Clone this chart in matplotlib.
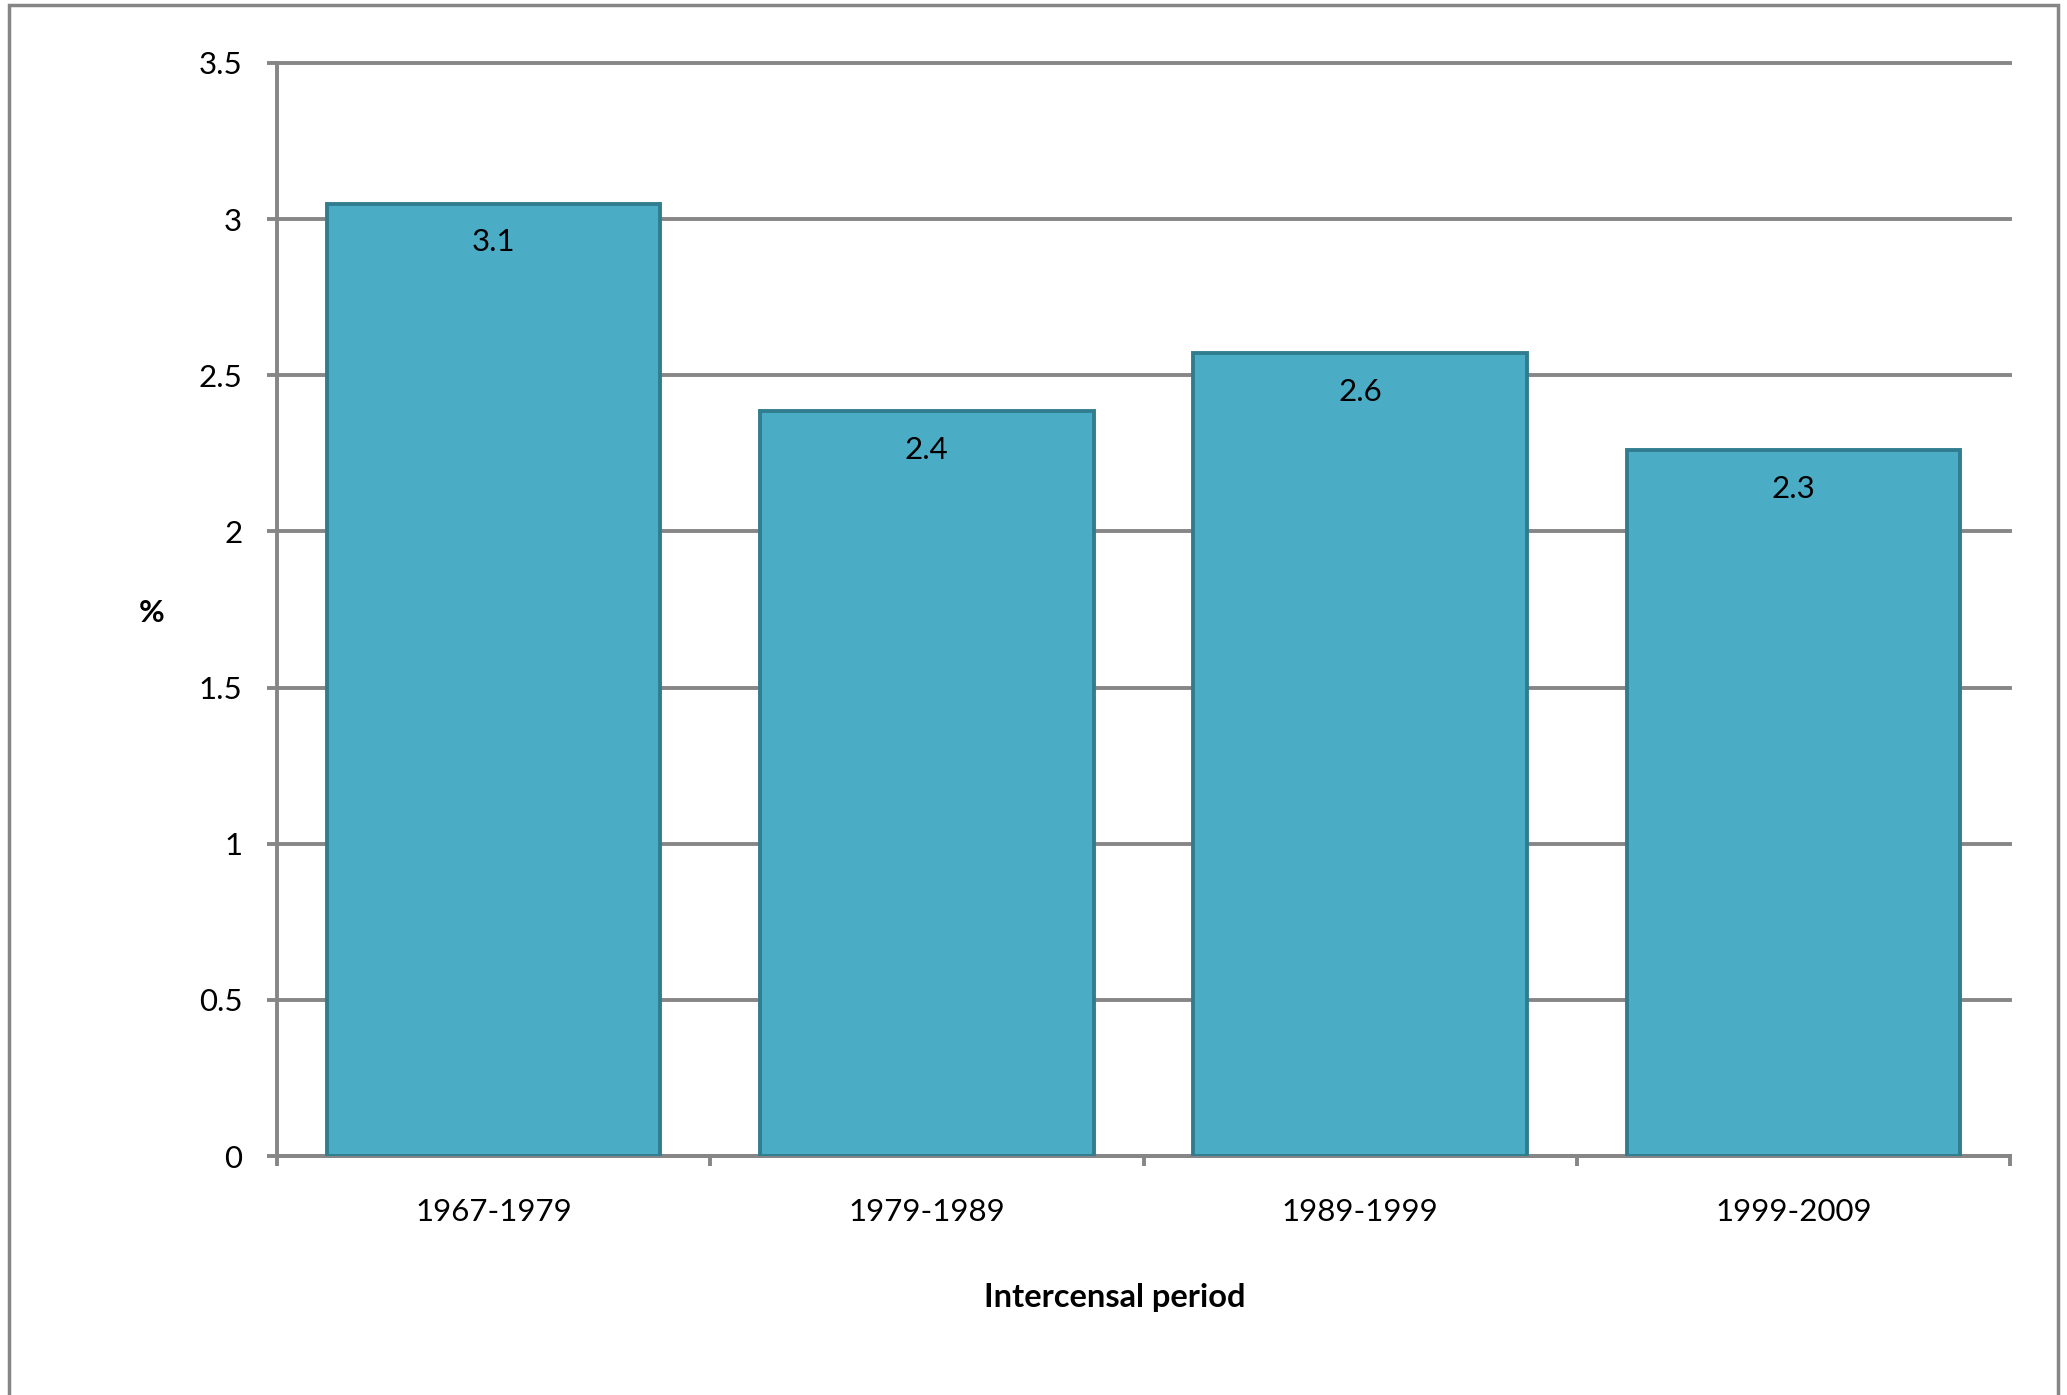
import matplotlib
matplotlib.use("Agg")
import matplotlib.pyplot as plt
from matplotlib.patches import Rectangle
import numpy as np

categories = ["1967-1979", "1979-1989", "1989-1999", "1999-2009"]
values = [3.05, 2.385, 2.57, 2.26]
labels = ["3.1", "2.4", "2.6", "2.3"]
yticks = [0, 0.5, 1, 1.5, 2, 2.5, 3, 3.5]
ytick_labels = ["0", "0.5", "1", "1.5", "2", "2.5", "3", "3.5"]

plt.rcParams['font.family'] = ['Lato', 'DejaVu Sans']

W, H = 2067, 1395
fig = plt.figure(figsize=(W / 100, H / 100), dpi=100)

grid_col = "#868686"
ax = fig.add_axes([277 / W, 1 - 1156 / H, (2010 - 277) / W, (1156 - 63) / H])

x = np.arange(len(categories))
ax.bar(x, values, width=0.77, color="#4BACC6", edgecolor="#317D90", linewidth=2.8, zorder=3)

for xi, v, lab in zip(x, values, labels):
    ax.annotate(lab, (xi, v), xytext=(0, -28), textcoords="offset points",
                ha="center", va="center", fontsize=22.5, color="black", zorder=4)

ax.set_xlim(-0.5, 3.5)
ax.set_ylim(0, 3.5)
ax.set_yticks(yticks)
ax.set_yticklabels(ytick_labels, fontsize=22.5)
ax.yaxis.grid(True, color=grid_col, linewidth=2.8, zorder=0)
ax.set_axisbelow(True)
for gl in ax.yaxis.get_gridlines():
    gl.set_clip_on(False)

ax.set_xticks(x)
ax.set_xticklabels(categories, fontsize=22.5)
ax.set_xticks(np.arange(-0.5, 3.6, 1.0), minor=True)
ax.tick_params(axis="x", which="major", length=0, pad=30)
ax.tick_params(axis="x", which="minor", length=7, width=2.8, color=grid_col, direction="out")
ax.tick_params(axis="y", length=7, width=2.8, color=grid_col, direction="out", pad=18)

for s in ["top", "right"]:
    ax.spines[s].set_visible(False)
for s in ["left", "bottom"]:
    ax.spines[s].set_color(grid_col)
    ax.spines[s].set_linewidth(2.8)

fig.text(152 / W, 1 - 613 / H, "%", fontsize=22.5, fontweight="bold", ha="center", va="center")
fig.text(1115 / W, 1 - 1298 / H, "Intercensal period", fontsize=23.5, fontweight="bold",
         ha="center", va="center")

# outer chart-area border (bottom edge falls outside the image)
border = Rectangle((9 / W, -0.05), (2058 - 9) / W, (1 - 5 / H) + 0.05,
                   transform=fig.transFigure, fill=False, edgecolor=grid_col,
                   linewidth=2.5, clip_on=False)
fig.patches.append(border)

fig.savefig("out.png", dpi=100)
